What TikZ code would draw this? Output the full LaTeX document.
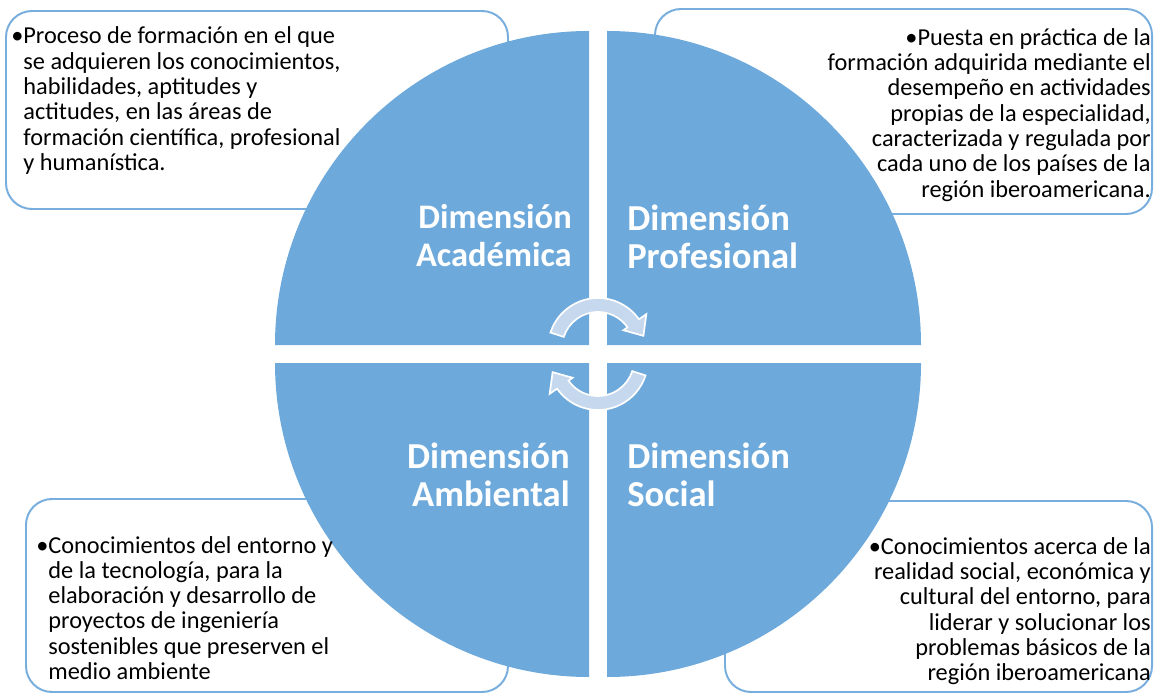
\documentclass[tikz,border=0pt]{standalone}
\usepackage{fontspec}
\setmainfont{Carlito}
\usepackage{tikz}
\definecolor{quadblue}{RGB}{109,169,219}
\definecolor{boxblue}{RGB}{120,174,221}
\definecolor{arrowfill}{RGB}{198,216,238}
\begin{document}
\begin{tikzpicture}[x=0.025cm,y=-0.025cm]
\tikzset{quadrant/.style = {fill=quadblue}}
\tikzset{descbox/.style = {draw=boxblue, line width=1.4pt, fill=white, rounded corners=0.65cm}}
\tikzset{desc/.style = {inner sep=0pt, font=\fontsize{17.3}{18}\selectfont}}
\tikzset{dimtitle/.style = {inner sep=0pt, text=white, font=\fontsize{26}{27}\selectfont\bfseries}}
\tikzset{cyclearrow/.style = {fill=arrowfill, draw=white, line width=1.2pt}}
\def \radius {314}
\useasboundingbox (0,0) rectangle (1154,694);
% boxes behind the circle
\draw[descbox] (6,11) rectangle (508,209);
\draw[descbox] (655,9) rectangle (1152,214);
\draw[descbox] (26,499) rectangle (508,692);
\draw[descbox] (725,501) rectangle (1152,692);
% four quarters
\fill[quadrant] (589,345) -- (275,345) arc[start angle=180, end angle=270, radius=\radius] -- cycle;
\fill[quadrant] (607,345) -- (607,31) arc[start angle=270, end angle=360, radius=\radius] -- cycle;
\fill[quadrant] (607,363) -- (921,363) arc[start angle=0, end angle=90, radius=\radius] -- cycle;
\fill[quadrant] (589,363) -- (589,677) arc[start angle=90, end angle=180, radius=\radius] -- cycle;
% cycle arrows
\begin{scope}[shift={(598,348)}]
\path[cyclearrow] (-162:50) arc[start angle=-162, end angle=-35, radius=50] -- (-35:59) -- (-15:47)
  -- (-35:31) -- (-35:36) arc[start angle=-35, end angle=-162, radius=36] -- cycle;
\end{scope}
\begin{scope}[shift={(598,360)}, rotate=180]
\path[cyclearrow] (-162:50) arc[start angle=-162, end angle=-35, radius=50] -- (-35:59) -- (-15:47)
  -- (-35:31) -- (-35:36) arc[start angle=-35, end angle=-162, radius=36] -- cycle;
\end{scope}
% titles
\node[dimtitle, align=right, anchor=east, font=\fontsize{24.5}{27}\selectfont\bfseries] (academica) at (572,236) {Dimensión\\Académica};
\node[dimtitle, align=left, anchor=west] (profesional) at (627,237) {Dimensión\\Profesional};
\node[dimtitle, align=right, anchor=east] (ambiental) at (570,475) {Dimensión\\Ambiental};
\node[dimtitle, align=left, anchor=west] (social) at (627,475) {Dimensión\\Social};
% descriptions
\node[desc, anchor=north west] (descacademica) at (11,26) {\begin{tabular}[t]{@{}l@{}l@{}}
  \textbullet & Proceso de formación en el que\\
  & se adquieren los conocimientos,\\
  & habilidades, aptitudes y\\
  & actitudes, en las áreas de\\
  & formación científica, profesional\\
  & y humanística.
  \end{tabular}};
\node[desc, align=right, anchor=north east] (descprofesional) at (1151,28) {\textbullet Puesta en práctica de la\\
  formación adquirida mediante el\\
  desempeño en actividades\\
  propias de la especialidad,\\
  caracterizada y regulada por\\
  cada uno de los países de la\\
  región iberoamericana.};
\node[desc, anchor=north west] (descambiental) at (36,535) {\begin{tabular}[t]{@{}l@{}l@{}}
  \textbullet & Conocimientos del entorno y\\
  & de la tecnología, para la\\
  & elaboración y desarrollo de\\
  & proyectos de ingeniería\\
  & sostenibles que preserven el\\
  & medio ambiente
  \end{tabular}};
\node[desc, align=right, anchor=north east] (descsocial) at (1151,537) {\textbullet Conocimientos acerca de la\\
  realidad social, económica y\\
  cultural del entorno, para\\
  liderar y solucionar los\\
  problemas básicos de la\\
  región iberoamericana};
\end{tikzpicture}
\end{document}
